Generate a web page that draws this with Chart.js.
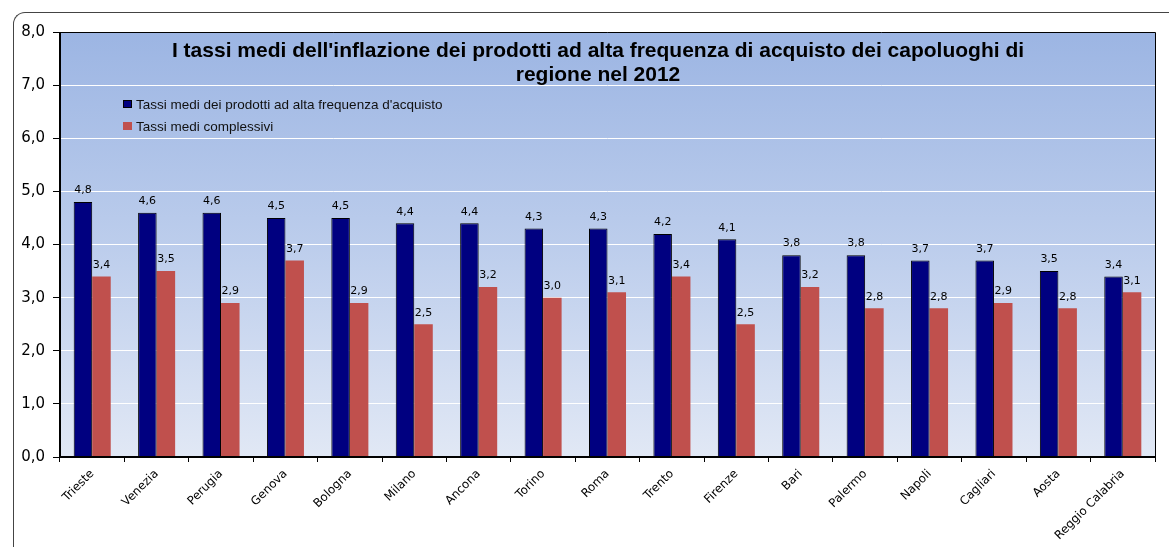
<!DOCTYPE html>
<html>
<head>
<meta charset="utf-8">
<script src="https://cdn.jsdelivr.net/npm/chart.js@4/dist/chart.umd.min.js"></script>
<style>
body{margin:0;background:#fff;}
#wrap{position:relative;width:1169px;height:547px;overflow:hidden;}
#frame{position:absolute;left:13px;top:12px;width:1300px;height:700px;border-top:1px solid #444;border-left:1px solid #444;border-top-left-radius:12px;}
#chart{position:absolute;left:0;top:0;}
</style>
</head>
<body>
<div id="wrap">
<div id="frame"></div>
<canvas id="chart" width="1169" height="547"></canvas>
</div>
<script>
const cities=['Trieste','Venezia','Perugia','Genova','Bologna','Milano','Ancona','Torino','Roma','Trento','Firenze','Bari','Palermo','Napoli','Cagliari','Aosta','Reggio Calabria'];
const altaFrequenza=[4.8,4.6,4.6,4.5,4.5,4.4,4.4,4.3,4.3,4.2,4.1,3.8,3.8,3.7,3.7,3.5,3.4];
const complessivi=[3.4,3.5,2.9,3.7,2.9,2.5,3.2,3.0,3.1,3.4,2.5,3.2,2.8,2.8,2.9,2.8,3.1];
const yTicks=[0,1,2,3,4,5,6,7,8];
const titleLines=["I tassi medi dell'inflazione dei prodotti ad alta frequenza di acquisto dei capoluoghi di","regione nel 2012"];

function fmt(v){
  return v.toFixed(1).replace('.',',');
}

// sfondo sfumato dell'area del grafico
const bgPlugin={
  id:'bg',
  beforeDraw(chart){
    const a=chart.chartArea;
    const ctx=chart.ctx;
    const g=ctx.createLinearGradient(0,a.top,0,a.bottom);
    g.addColorStop(0,'#9cb5e3');
    g.addColorStop(0.5,'#bccdec');
    g.addColorStop(1,'#e1e8f5');
    ctx.save();
    ctx.fillStyle=g;
    ctx.fillRect(a.left,a.top,a.right-a.left,a.bottom-a.top);
    ctx.restore();
  }
};

// titolo, legenda, etichette e cornice
const extraPlugin={
  id:'extra',
  afterDatasetsDraw(chart){
    const ctx=chart.ctx;
    ctx.save();
    ctx.fillStyle='#000';
    ctx.font='11px "DejaVu Sans"';
    ctx.textAlign='center';
    ctx.textBaseline='bottom';
    chart.data.datasets.forEach((ds,i)=>{
      chart.getDatasetMeta(i).data.forEach((bar,j)=>{
        ctx.fillText(fmt(ds.data[j]),bar.x,bar.y-6);
      });
    });
    ctx.restore();
  },
  afterDraw(chart){
    const a=chart.chartArea;
    const ctx=chart.ctx;
    ctx.save();
    ctx.strokeStyle='#000';
    ctx.lineWidth=1;
    ctx.beginPath();
    ctx.moveTo(a.left,a.top+0.5);
    ctx.lineTo(a.right+0.5,a.top+0.5);
    ctx.lineTo(a.right+0.5,a.bottom);
    ctx.stroke();
    ctx.lineWidth=2;
    ctx.beginPath();
    ctx.moveTo(a.left,a.top);
    ctx.lineTo(a.left,a.bottom);
    ctx.lineTo(a.right+1,a.bottom);
    ctx.stroke();

    ctx.fillStyle='#000';
    ctx.font='bold 21px "Liberation Sans"';
    ctx.textAlign='center';
    ctx.textBaseline='alphabetic';
    ctx.fillText(titleLines[0],598,57,855);
    ctx.fillText(titleLines[1],598,81);

    ctx.font='13.5px "Liberation Sans"';
    ctx.textAlign='left';
    ctx.textBaseline='middle';
    chart.data.datasets.forEach((ds,i)=>{
      const y=104+i*22;
      ctx.fillStyle=ds.backgroundColor;
      ctx.fillRect(123,y-4,9,8);
      if(i==0){
        ctx.strokeStyle='#000';
        ctx.lineWidth=1;
        ctx.strokeRect(123.5,y-3.5,8,7);
      }
      ctx.fillStyle='#111';
      ctx.fillText(ds.label,136,y+1);
    });
    ctx.restore();
  }
};

const ctx=document.getElementById('chart').getContext('2d');
const myChart=new Chart(ctx,{
  type:'bar',
  data:{
    labels:cities,
    datasets:[{
      label:"Tassi medi dei prodotti ad alta frequenza d'acquisto",
      data:altaFrequenza,
      backgroundColor:'#000080',
      borderColor:'#000000',
      borderWidth:1
    },{
      label:'Tassi medi complessivi',
      data:complessivi,
      backgroundColor:'#c0504d',
      borderColor:'#c86662',
      borderWidth:0
    }]
  },
  plugins:[bgPlugin,extraPlugin],
  options:{
    responsive:false,
    animation:false,
    layout:{padding:{top:32,right:14,left:0,bottom:0}},
    datasets:{bar:{categoryPercentage:0.575,barPercentage:1}},
    plugins:{
      legend:{display:false},
      title:{display:false},
      tooltip:{enabled:false}
    },
    scales:{
      x:{
        afterFit(s){s.height=90;},
        grid:{display:true,drawOnChartArea:false,drawTicks:true,tickLength:5,tickColor:'#000',offset:true},
        border:{display:false},
        ticks:{
          color:'#000',
          font:{family:'DejaVu Sans',size:11.8},
          maxRotation:45,
          minRotation:45,
          autoSkip:false,
          padding:5
        }
      },
      y:{
        min:0,
        max:8,
        afterFit(s){s.width=60;},
        afterBuildTicks(s){s.ticks=yTicks.map(v=>({value:v}));},
        grid:{
          color:(c)=>(c.tick && (c.tick.value==0 || c.tick.value==8)) ? 'rgba(0,0,0,0)' : '#ffffff',
          lineWidth:1,
          tickLength:7,
          tickColor:'#000'
        },
        border:{display:false},
        ticks:{
          color:'#000',
          font:{family:'DejaVu Sans',size:15},
          padding:8,
          callback:(v)=>fmt(v)
        }
      }
    }
  }
});
</script>
</body>
</html>
